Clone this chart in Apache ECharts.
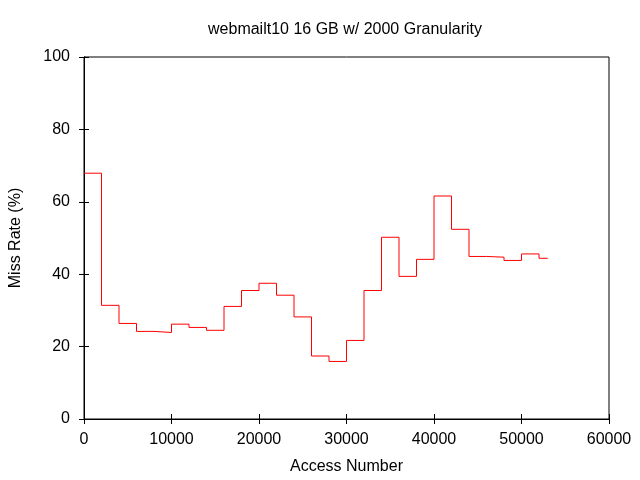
<!DOCTYPE html>
<html><head><meta charset="utf-8">
<script src="https://cdn.jsdelivr.net/npm/echarts@6/dist/echarts.min.js"></script>
<style>html,body{margin:0;padding:0;background:#fff}#c{width:640px;height:480px}</style>
</head><body><div id="c"></div>
<script>
const titleText = 'webmailt10 16 GB w/ 2000 Granularity';
const xLabel = 'Access Number';
const yLabel = 'Miss Rate (%)';
const accessNumbers = [0,2000,4000,6000,8000,10000,12000,14000,16000,18000,20000,22000,24000,26000,28000,30000,32000,34000,36000,38000,40000,42000,44000,46000,48000,50000,52000,53000];
const missRates = [67.9,31.4,26.4,24.2,23.9,26.2,25.3,24.5,31.1,35.5,37.5,34.2,28.2,17.4,15.9,21.7,35.5,50.2,39.4,44.1,61.6,52.4,44.9,44.7,43.8,45.6,44.4,44.4];
const xTicks = {min:0,max:60000,interval:10000};
const yTicks = {min:0,max:100,interval:20};

const font = 'Liberation Sans, Arial, sans-serif';
const chart = echarts.init(document.getElementById('c'), null, {renderer:'canvas'});
const grid = {left:84, right:31, top:57, bottom:61, show:true, borderColor:'#000', borderWidth:1, backgroundColor:'transparent'};
const tick = {show:true, inside:true, length:5, lineStyle:{color:'#000', width:1}};
chart.setOption({
  animation:false,
  backgroundColor:'#fff',
  title:{text:titleText, left:340, top:17, textAlign:'center', textStyle:{fontFamily:font, fontSize:16, fontWeight:'normal', color:'#000'}},
  grid: grid,
  xAxis:[{
    type:'value', min:xTicks.min, max:xTicks.max, interval:xTicks.interval, position:'bottom',
    name:xLabel, nameLocation:'middle', nameGap:40,
    nameTextStyle:{fontFamily:font, fontSize:16, color:'#000'},
    axisLine:{show:true, lineStyle:{color:'#000'}}, axisTick:tick,
    axisLabel:{fontFamily:font, fontSize:16, color:'#000', margin:13, formatter:v=>String(v)},
    splitLine:{show:false}
  },{
    type:'value', min:xTicks.min, max:xTicks.max, interval:xTicks.interval, position:'top',
    axisLine:{show:true, lineStyle:{color:'#000'}}, axisTick:tick, axisLabel:{show:false}, splitLine:{show:false}
  }],
  yAxis:[{
    type:'value', min:yTicks.min, max:yTicks.max, interval:yTicks.interval, position:'left',
    name:yLabel, nameLocation:'middle', nameGap:60, nameRotate:90,
    nameTextStyle:{fontFamily:font, fontSize:16, color:'#000'},
    axisLine:{show:true, lineStyle:{color:'#000'}}, axisTick:tick,
    axisLabel:{fontFamily:font, fontSize:16, color:'#000', margin:14},
    splitLine:{show:false}
  },{
    type:'value', min:yTicks.min, max:yTicks.max, interval:yTicks.interval, position:'right',
    axisLine:{show:true, lineStyle:{color:'#000'}}, axisTick:tick, axisLabel:{show:false}, splitLine:{show:false}
  }],
  series:[{
    type:'line', step:'end', showSymbol:false, symbol:'none',
    data: accessNumbers.map((x,i)=>[x, missRates[i]]),
    lineStyle:{color:'#ff0000', width:1}, itemStyle:{color:'#ff0000'}
  }]
});
</script></body></html>
